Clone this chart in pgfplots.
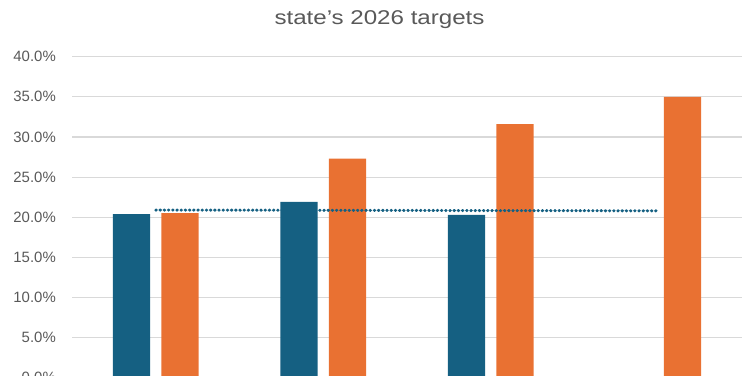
\documentclass[border=0pt]{standalone}
\usepackage{fontspec}
\setmainfont{Liberation Sans}
\usepackage{graphicx}
\usepackage{pgfplots}
\pgfplotsset{compat=1.18}
\definecolor{cblue}{HTML}{156082}
\definecolor{corange}{HTML}{E97132}
\definecolor{cgrid}{HTML}{D9D9D9}
\definecolor{ctext}{HTML}{595959}
\begin{document}
\begin{tikzpicture}[x=1bp,y=1bp]
\useasboundingbox (0,0) rectangle (750,375);
\clip (0,0) rectangle (750,375);
\node[anchor=base, text=ctext, font=\fontsize{20}{24}\selectfont, inner sep=0pt] at (379.5,351) {\scalebox{1.21}[1]{state’s 2026 targets}};
\begin{axis}[at={(72bp,-2.8bp)}, anchor=south west, scale only axis,
  width=670bp, height=321.1bp,
  xmin=-0.5, xmax=3.5, ymin=0, ymax=40,
  ytick={0,5,...,40}, xtick=\empty,
  ymajorgrids, major grid style={cgrid, line width=1.2bp},
  axis line style={draw=none}, major tick length=0pt,
  yticklabel={\pgfmathprintnumber[fixed,fixed zerofill,precision=1]{\tick}\%},
  /pgf/number format/assume math mode=true,
  yticklabel style={font=\fontsize{15}{18}\selectfont, text=ctext, inner sep=0pt, xshift=-16bp},
  clip=false]
\addplot[ybar, bar width=37.3bp, bar shift=-24.2bp, fill=cblue, draw=none] coordinates {(0,20.4) (1,21.9) (2,20.3)};
\addplot[ybar, bar width=37.3bp, bar shift=24.2bp, fill=corange, draw=none] coordinates {(0,20.5) (1,27.3) (2,31.6) (3,35.0)};
\addplot[sharp plot, cblue, line width=3bp, line cap=round, dash pattern=on 0.6bp off 3.6bp] coordinates {(0,20.9) (1,20.87) (2,20.83) (3,20.8)};
\end{axis}
\end{tikzpicture}
\end{document}
